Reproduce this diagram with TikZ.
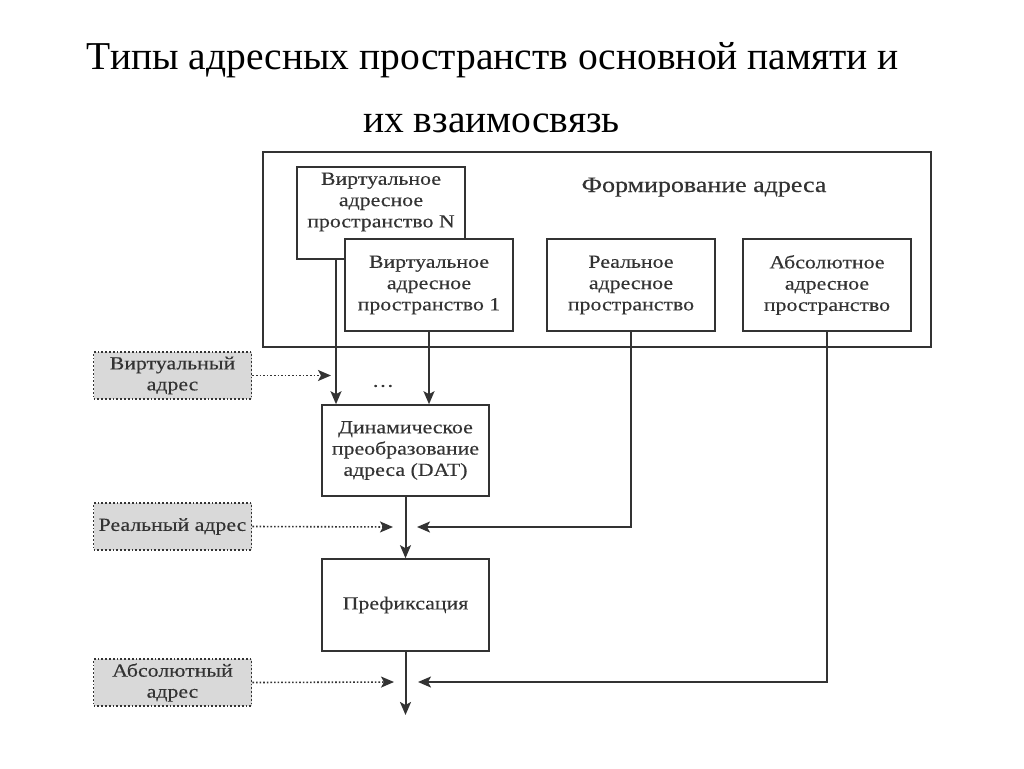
\documentclass[tikz,border=0pt]{standalone}
\usepackage{fontspec}
\setmainfont{Liberation Serif}
\newfontfamily\diafont[FakeStretch=1.18,FakeBold=0.25]{Liberation Serif}
\usetikzlibrary{arrows.meta,positioning}
\definecolor{ink}{HTML}{333333}
\definecolor{grayfill}{HTML}{D9D9D9}
\tikzset{
  box/.style={draw=ink, line width=1.6pt, fill=white, minimum width=168pt, minimum height=92pt, inner sep=0pt,
    align=center, text=ink, font=\diafont\fontsize{18.5}{21.3}\selectfont},
  graybox/.style={draw=ink, line width=1.8pt, dotted, fill=grayfill, minimum width=158pt, minimum height=47pt, inner sep=0pt,
    align=center, text=ink, font=\diafont\fontsize{18.5}{21}\selectfont},
  conn/.style={draw=ink, line width=2pt},
  arr/.style={conn, -{Stealth[length=13pt,width=11pt,inset=3pt]}},
  dotarr/.style={draw=ink, line width=1.6pt, dotted, -{Stealth[length=13pt,width=11pt,inset=3pt]}},
}
\begin{document}
\begin{tikzpicture}[x=1pt,y=-1pt]
\useasboundingbox[fill=white] (0,0) rectangle (1024,768);
% title
\node[anchor=base, font=\fontsize{39.5}{42}\selectfont] (t1) at (493,70) {Типы адресных пространств основной памяти и};
\node[anchor=base, font=\fontsize{39.5}{42}\selectfont] (t2) at (491.5,132) {их взаимосвязь};
% outer frame
\node[draw=ink, line width=2pt, minimum width=668pt, minimum height=195pt, inner sep=0pt] (outer) at (597,249.5) {};
\node[anchor=base, text=ink, font=\diafont\fontsize{22}{24}\selectfont] (form) at (704,192) {Формирование адреса};
% boxes
\node[box] (boxN) at (381,213) {};
\node[align=center, text=ink, font=\diafont\fontsize{18.5}{21.3}\selectfont] (boxNtext) at (381,202) {Виртуальное\\адресное\\пространство N};
\node[box] (box1) at (429,285) {Виртуальное\\адресное\\пространство 1};
\node[box] (real) at (631,285) {Реальное\\адресное\\пространство};
\node[box] (abs) at (827,285) {Абсолютное\\адресное\\пространство};
\node[box, minimum width=167pt, minimum height=91pt] (dat) at (405.5,450.5) {Динамическое\\преобразование\\адреса (DAT)};
\node[box, minimum width=167pt] (pref) at (405.5,605) {Префиксация};
% gray boxes
\node[graybox] (gvirt) at (172.5,375.5) {Виртуальный\\адрес};
\node[graybox] (greal) at (172.5,526.5) {Реальный адрес};
\node[graybox] (gabs) at (172.5,682.5) {Абсолютный\\адрес};
\node[text=ink, font=\diafont\fontsize{18.5}{20}\selectfont] (dots) at (383,386) {\dots};
% coordinates
\coordinate (xN) at (336,0);
\coordinate (jr) at (417,527);
\coordinate (ja) at (418,682);
\coordinate (dv) at (331,375.5);
\coordinate (dr) at (393,527);
\coordinate (da) at (394,682);
\coordinate (outend) at (405.5,715);
% connectors
\draw[arr] (boxN.south -| xN) -- (dat.north -| xN);
\draw[arr] (box1.south) -- (box1.south |- dat.north);
\draw[arr] (real.south) -- (real.south |- jr) -- (jr);
\draw[arr] (dat.south) -- (pref.north);
\draw[arr] (abs.south) -- (abs.south |- ja) -- (ja);
\draw[arr] (pref.south) -- (outend);
\draw[dotarr] (gvirt.east) -- (dv);
\draw[dotarr] (greal.east) -- (dr);
\draw[dotarr] (gabs.east) -- (da);
\end{tikzpicture}
\end{document}
